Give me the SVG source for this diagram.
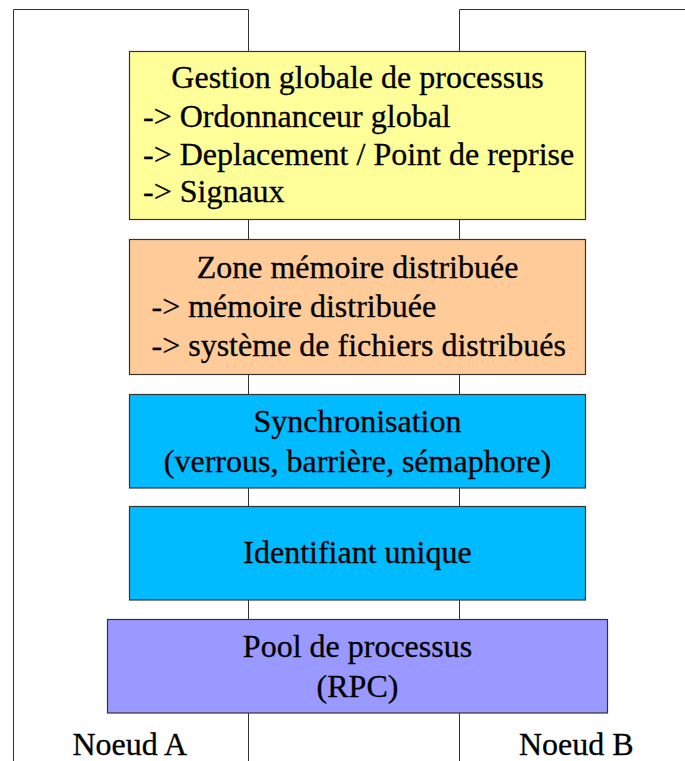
<svg xmlns="http://www.w3.org/2000/svg" width="685" height="761" viewBox="0 0 685 761">
<style>
.ln{stroke:#333;stroke-width:1;fill:none}
.bx{stroke:#333;stroke-width:1.2}
text{font-family:"Liberation Serif","Times New Roman",serif;font-size:32px;fill:#000;stroke:#000;stroke-width:0.3}
.c{text-anchor:middle}
</style>
<rect width="685" height="761" fill="#fff"/>
<g id="connectors">
<polyline class="ln" points="13.5,761 13.5,9.5 248.5,9.5 248.5,761"/>
<polyline class="ln" points="459.5,761 459.5,9.5 686,9.5"/>
</g>
<g id="gestion">
<rect class="bx" x="129.5" y="51.5" width="456" height="168" fill="#FFFF99"/>
<text class="c" x="357.5" y="87.5">Gestion globale de processus</text>
<text x="143" y="126.5">-&gt; Ordonnanceur global</text>
<text x="143" y="164.5">-&gt; Deplacement / Point de reprise</text>
<text x="143" y="201.5">-&gt; Signaux</text>
</g>
<g id="zone">
<rect class="bx" x="129.5" y="239.5" width="456" height="135" fill="#FFCC99"/>
<text class="c" x="357.5" y="278">Zone mémoire distribuée</text>
<text x="151.5" y="317">-&gt; mémoire distribuée</text>
<text x="151.5" y="355.5">-&gt; système de fichiers distribués</text>
</g>
<g id="synchro">
<rect class="bx" x="129.5" y="394.5" width="456" height="93.5" fill="#00BBFF"/>
<text class="c" x="357.5" y="431.5">Synchronisation</text>
<text class="c" x="357.5" y="471.5">(verrous, barrière, sémaphore)</text>
</g>
<g id="identifiant">
<rect class="bx" x="129.5" y="506.5" width="456" height="93.5" fill="#00BBFF"/>
<text class="c" x="357.5" y="563">Identifiant unique</text>
</g>
<g id="pool">
<rect class="bx" x="107.5" y="619.5" width="500" height="93.5" fill="#9999FF"/>
<text class="c" x="357.5" y="656.5">Pool de processus</text>
<text class="c" x="357.5" y="696.5">(RPC)</text>
</g>
<g id="labels">
<text x="72.5" y="755">Noeud A</text>
<text x="519" y="755">Noeud B</text>
</g>
</svg>
